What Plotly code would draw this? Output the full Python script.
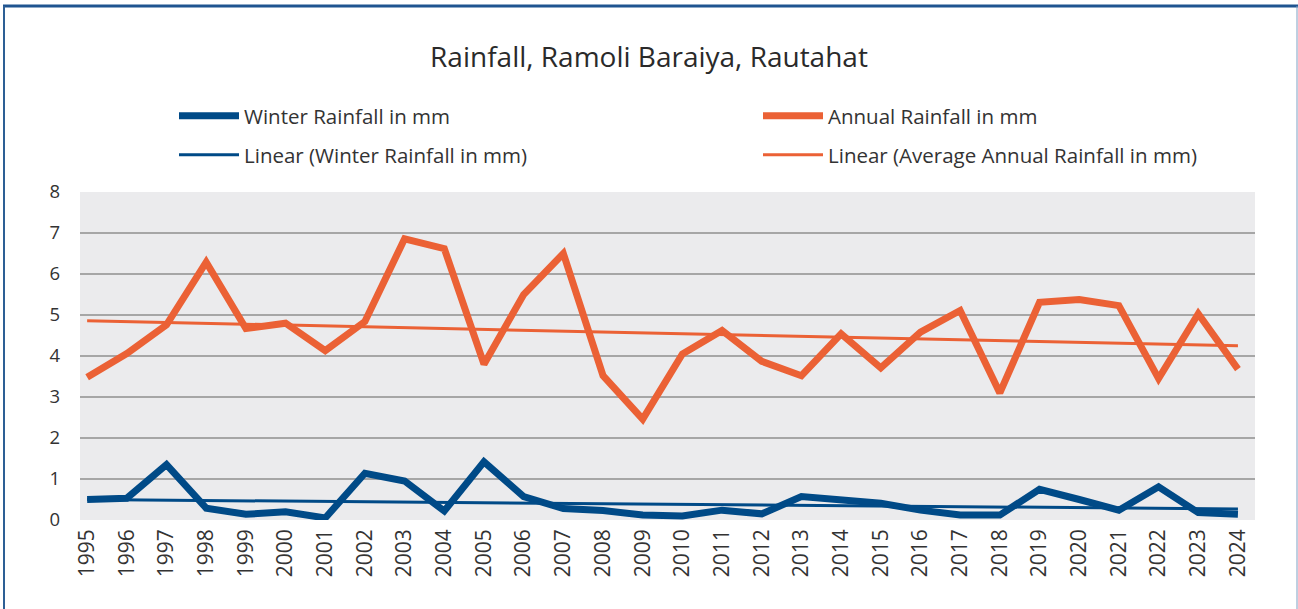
import plotly.graph_objects as go

years = list(range(1995, 2025))
winter_rainfall = [0.50, 0.53, 1.35, 0.29, 0.14, 0.20, 0.05, 1.14, 0.95, 0.22,
                   1.42, 0.57, 0.28, 0.23, 0.12, 0.10, 0.24, 0.15, 0.57, 0.50,
                   0.41, 0.24, 0.12, 0.12, 0.75, 0.50, 0.24, 0.81, 0.18, 0.14]
annual_rainfall = [3.48, 4.06, 4.76, 6.29, 4.67, 4.80, 4.13, 4.84, 6.86, 6.62,
                   3.80, 5.50, 6.50, 3.52, 2.46, 4.05, 4.62, 3.87, 3.52, 4.54,
                   3.71, 4.58, 5.11, 3.10, 5.31, 5.38, 5.23, 3.45, 5.03, 3.68]
trend_years = [1995, 2024]
winter_trend = [0.50, 0.27]
annual_trend = [4.86, 4.25]
y_ticks = [0, 1, 2, 3, 4, 5, 6, 7, 8]

BLUE = "#004a87"
ORANGE = "#eb6135"
FONT = "Open Sans"
W, H = 1298, 609
L, R, T, B = 80, 43, 192, 89
PW, PH = W - L - R, H - T - B

fig = go.Figure()
fig.add_trace(go.Scatter(x=years, y=winter_rainfall, mode="lines", name="Winter Rainfall in mm",
                         line=dict(color=BLUE, width=7), legend="legend"))
fig.add_trace(go.Scatter(x=years, y=annual_rainfall, mode="lines", name="Annual Rainfall in mm",
                         line=dict(color=ORANGE, width=7), legend="legend"))
fig.add_trace(go.Scatter(x=trend_years, y=winter_trend, mode="lines", name="Linear (Winter Rainfall in mm)",
                         line=dict(color=BLUE, width=3), legend="legend2"))
fig.add_trace(go.Scatter(x=trend_years, y=annual_trend, mode="lines",
                         name="Linear (Average Annual Rainfall in mm)",
                         line=dict(color=ORANGE, width=3), legend="legend2"))

leg_common = dict(orientation="h", xref="container", yref="container",
                  xanchor="left", yanchor="middle",
                  entrywidth=509, entrywidthmode="pixels", itemwidth=60,
                  font=dict(size=20.5, color="#333333", family=FONT),
                  traceorder="normal", bgcolor="rgba(0,0,0,0)")

fig.update_layout(
    width=W, height=H,
    margin=dict(l=L, r=R, t=T, b=B, autoexpand=False),
    paper_bgcolor="white",
    plot_bgcolor="#ebebed",
    font=dict(family=FONT, color="#333333"),
    title=dict(text="Rainfall, Ramoli Baraiya, Rautahat", x=0.5, xanchor="center",
               y=1 - 57 / H, yref="container", yanchor="middle",
               font=dict(size=28, color="#2a2a2a", family=FONT)),
    showlegend=True,
    legend=dict(leg_common, x=174 / W, y=1 - 116 / H),
    legend2=dict(leg_common, x=174 / W, y=1 - 155 / H),
    xaxis=dict(range=[1994.82, 2024.43], tickmode="array", tickvals=years,
               ticktext=[str(y) for y in years], tickangle=-90,
               tickfont=dict(size=21, color="#333333", family=FONT),
               showgrid=False, zeroline=False, showline=False, ticks="",
               ticklabelstandoff=4),
    yaxis=dict(range=[0, 8], tickmode="array", tickvals=y_ticks,
               tickfont=dict(size=18.5, color="#333333", family=FONT),
               showgrid=True, gridcolor="#a6a6a6", gridwidth=1.5,
               zeroline=False, showline=False, ticks="", ticklabelstandoff=19),
    shapes=[
        dict(type="line", xref="paper", yref="paper", x0=(3 - L) / PW, x1=(W - L) / PW,
             y0=(H - 6 - B) / PH, y1=(H - 6 - B) / PH,
             line=dict(color="#1f5490", width=3)),
        dict(type="line", xref="paper", yref="paper", x0=(4 - L) / PW, x1=(4 - L) / PW,
             y0=(H - 6 - B) / PH, y1=(-B) / PH,
             line=dict(color="#2d5f95", width=2)),
        dict(type="line", xref="paper", yref="paper", x0=(1297 - L) / PW, x1=(1297 - L) / PW,
             y0=(H - 6 - B) / PH, y1=(-B) / PH,
             line=dict(color="#7f9fc2", width=1)),
    ],
)

fig.write_html("out.html", config={"displayModeBar": False},
               post_script="document.body.style.margin='0';")
